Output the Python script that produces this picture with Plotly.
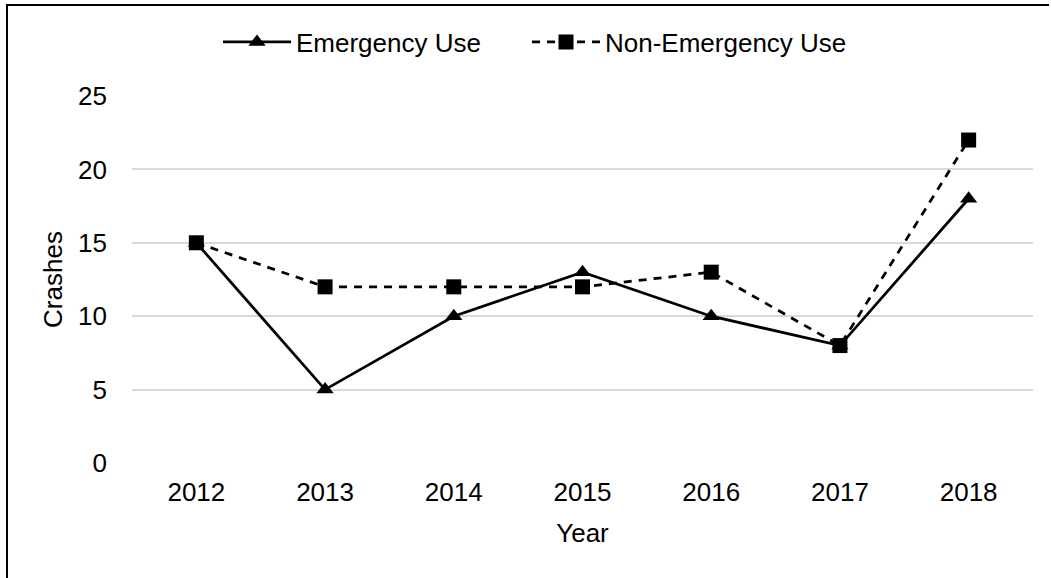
import plotly.graph_objects as go

years = ["2012", "2013", "2014", "2015", "2016", "2017", "2018"]
emergency = [15, 5, 10, 13, 10, 8, 18]
non_emergency = [15, 12, 12, 12, 13, 8, 22]

W, H = 1051, 578
L, R, T, B = 132, 1033, 96, 463
pw, ph = R - L, B - T
FONT = "Liberation Sans, Arial, sans-serif"

fig = go.Figure()
fig.add_trace(go.Scatter(
    x=years, y=emergency, name="Emergency Use", mode="lines+markers",
    line=dict(color="black", width=2.75),
    marker=dict(symbol="triangle-up", size=15, color="black"),
    legend="legend",
))
fig.add_trace(go.Scatter(
    x=years, y=non_emergency, name="Non-Emergency Use", mode="lines+markers",
    line=dict(color="black", width=2.75, dash="8px,7px"),
    marker=dict(symbol="square", size=15, color="black"),
    legend="legend2",
))


def px_x(v):
    return (v - L) / pw


def px_y(v):
    return (B - v) / ph


# outer frame (left and top edges visible)
fig.add_shape(type="line", xref="paper", yref="paper",
              x0=px_x(7), x1=px_x(7), y0=px_y(5), y1=px_y(600),
              line=dict(color="black", width=2))
fig.add_shape(type="line", xref="paper", yref="paper",
              x0=px_x(6), x1=px_x(1049), y0=px_y(5), y1=px_y(5),
              line=dict(color="black", width=2))

legend_common = dict(orientation="h", xanchor="left", yanchor="middle", y=px_y(42),
                     font=dict(size=26), itemwidth=68, tracegroupgap=0,
                     bgcolor="rgba(0,0,0,0)")

fig.update_layout(
    width=W, height=H,
    margin=dict(l=L, r=W - R, t=T, b=H - B, autoexpand=False),
    paper_bgcolor="white", plot_bgcolor="white",
    font=dict(family=FONT, size=26, color="black"),
    showlegend=True,
    legend=dict(x=px_x(218), **legend_common),
    legend2=dict(x=px_x(527), **legend_common),
    xaxis=dict(type="category", range=[-0.5, 6.5], showgrid=False, showline=False,
               ticks="", tickfont=dict(size=26), ticklabelstandoff=11,
               title=dict(text="Year", font=dict(size=26), standoff=17)),
    yaxis=dict(range=[0, 25], dtick=5, showgrid=True, gridcolor="#d9d9d9", gridwidth=2,
               zeroline=False, showline=False, ticks="", tickfont=dict(size=26),
               ticklabelstandoff=24,
               title=dict(text="Crashes", font=dict(size=26), standoff=7)),
)

fig.write_html("out.html", config={"displayModeBar": False},
               post_script="document.body.style.margin='0px';")
